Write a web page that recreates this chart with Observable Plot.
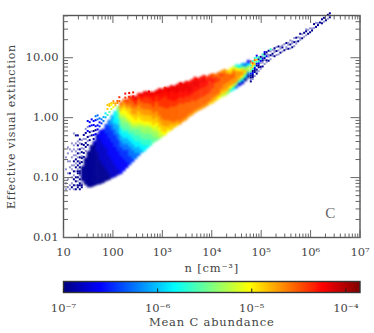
<!DOCTYPE html>
<html><head><meta charset="utf-8">
<script src="https://cdn.jsdelivr.net/npm/d3@7"></script>
<script src="https://cdn.jsdelivr.net/npm/@observablehq/plot@0.6"></script>
<style>html,body{margin:0;padding:0;background:#fff}svg{display:block}.soft{filter:blur(0.9px)}.sp1 text{letter-spacing:0.75px}.sp2 text{letter-spacing:0.8px}</style>
</head><body><div id="c"></div>
<script>
const levelChars = "abcdefghijklmnopqr";
const levelLogC = [-6.94,-6.78,-6.62,-6.46,-6.26,-6.06,-5.85,-5.66,-5.50,-5.35,-5.19,-5.03,-4.87,-4.72,-4.56,-4.40,-4.28,-4.20];

const solidFirstLogN = 1.36, solidStepN = 0.06, solidStepA = 0.05;
const solidStart = [-1.07,-1.13,-1.17,-1.17,-1.15,-1.13,-1.12,-1.10,-1.07,-1.05,-1.02,-1.0,-.97,-.95,-.90,-.85,-.80,-.75,-.70,-.65,-.60,-.57,-.52,-.48,-.43,-.40,-.37,-.33,-.30,-.25,-.22,-.18,-.15,-.12,-.08,-.05,0,.03,.07,.10,.125,.15,.18,.21,.23,.27,.30,.33,.35,.38,.42,.45,.48,.52,.55,.60,.65];
const solidRows = ["aaaaa","aaaaaaaaa","aaaaaaaaaaaa","aaaaaaaaaaaaaa","aaaaaaaaaaaaaab","aaaaaaaaaaabbbbbb","aaaaaaaabbbbbbbccc","aaaaaabbbbbbbccccc","aaaabbbbbbbcccccddd","aabbbbbbccccccddddee","bbbbbbccccccddddeefff","bbbbccccccddddeeffgggg","bbccccccddddeefffgghhij","ccccccdddeeffgghiijklmno","ccccdddeeffgghiijjkllmno","ccddddeeffgghiijkllmnop","dddeeeffgghiijkllmmnoop","deeeffgghhijkllmnnoopq","eeffgghhiijklmmnnopqr","effgghhiijkllmmnnoopq","fgghhiijjklmmnnoopqr","gghhiijjklmmnnooppqr","ghhiijjklmmnnooppqr","hhiijjklmmnnooppqr","iijjklmmnnooppqqr","ijjkklmmnnoooppqr","jkklmmnnoooppqqrr","klmmnnoooopppqqr","lmmnnooooppppqqr","lmnnoooopppqqrr","mmnoooooppqqqrr","mnoooooppqqqrr","mnoooooppqqrrr","nooooooppqqrrr","noooooppqqrrr","noooooppqqrrr","nooooppqrrrq","nooooppqrrrq","nooopppqqrrq","nooopppqrrq","nooopppqqrq","nooopppqqrq","nooopppqqp","moooppppqp","mnoooppqpo","mnooooppo","lnoooopoo","kmnoooopn","kmnnoooon","jmnnooom","hlnnooml","gknnoonk","ejnnnnlh","chmnnlg","bglnmjf","agkmie","aejkgc"];

const sparseStepN = 0.04, sparseStepA = 0.0333;
const sparseN = [1.04,1.08,1.12,1.16,1.20,1.24,1.28,1.32,1.36,1.36,1.40,1.44,1.48,1.52,1.56,1.60,1.64,1.68,1.72,1.76,1.80,1.84,1.88,1.92,1.96,2.00,2.04,2.08,2.12,
 2.24,2.32,2.40,2.72,3.04,3.36,3.68,4.00,4.32,
 4.78,4.82,4.86,4.90,4.94,4.98,5.02,5.06,5.10,5.14,5.18,5.22,5.26,5.30,5.34,5.38,5.42,5.46,5.50,5.54,5.58,5.62,5.66,5.70,5.74,5.78,5.82,5.86,5.90,5.94,5.98,6.02,6.06,6.10,6.14,6.18,6.22,6.26,6.30,6.34,6.38];
const sparseA = [-1.22,-1.22,-1.22,-1.22,-1.22,-1.22,-1.22,-1.22,-1.22,-.80,-.68,-.58,-.48,-.40,-.32,-.38,-.30,-.22,-.17,-.12,-.08,-.02,.02,.07,.12,.15,.18,.22,.25,
 .31,.32,.33,.41,.47,.54,.61,.68,.74,
 .58,.62,.67,.71,.75,.79,.83,.87,.90,.925,.95,.975,1.0,1.02,1.03,1.06,1.08,1.10,1.12,1.125,1.13,1.15,1.17,1.21,1.25,1.275,1.30,1.325,1.35,1.375,1.40,1.43,1.47,1.49,1.52,1.53,1.55,1.575,1.60,1.625,1.65];
const sparseRows = ["z..z......z.....z",".z...z..z.....z...z..z","z.z.....a..z..z.....z",".a.z..z...z.z...z..z...z","z.a..a.z.a..z.a..z..z.z.....z","a.z.a.a..z.a.z.a.z.z...z...a",".aa.z.a.aaz.a.a.z.a.z.a.z..a","a.aa.a.zaa.a.az.a.z.a..z.a",".aaz",".a.az.a.z.a.z","a.a.z.a..z.a","z.a.a.z..a.z","a.z.a..c.z..c","a.z.a..c.c","a.z..c..c","a.c.a..c.c","c.a.c..c.e","c.c..e.e","d.c.e","d.e","e.f","f.g","h..m.m","i..mm","k.lm","l.mn","mn","no","o.p",
 "p.q","q.r","r.q","r","o","q","q","o","m",
 "azaachjmhlo","zaacahkmoh","z.aachmjoh","aza.achmhc","z.aachah","za.zcha.","a.zaczh","z.zahac","za.cza","a.zz.a","z.a.zh",".za.z","a.zza","z.a.z","z.z.a","a.zz","z.az","a..z","zz.a","a.zz","z.a.z","a.zz","z.a.z","zz.a","a.z","zz.a","a.z","z.a","z.az","a.z","a.z","az","z.a","a.z","az",".a","a.a","z.a","a","z.a","a.a"];

const colorT = [0,0.125,0.375,0.625,0.875,1];
const colorRange = ["#000080","#0000ff","#00ffff","#ffff00","#ff0000","#800000"];
const jet = d3.scaleLinear().domain(colorT).range(colorRange);

const xMajor = [10,100,1e3,1e4,1e5,1e6,1e7];
const xLabels = ["10","100","10³","10⁴","10⁵","10⁶","10⁷"];
const yMajor = [0.01,0.1,1,10];
const yLabels = ["0.01","0.10","1.00","10.00"];
const barMajor = [1e-7,1e-6,1e-5,1e-4];
const barLabels = ["10⁻⁷","10⁻⁶","10⁻⁵","10⁻⁴"];
const minorMult = [2,3,4,5,6,7,8,9];

const cells = [];
solidRows.forEach((s,i)=>{ const ln = solidFirstLogN+i*solidStepN;
  [...s].forEach((ch,k)=>{ const la = solidStart[i]+k*solidStepA;
    cells.push({x1:10**ln,x2:10**(ln+solidStepN+.006),y1:10**la,y2:10**(la+solidStepA+.005),c:10**levelLogC[levelChars.indexOf(ch)]}); }); });
const specks = [], faint = [];
sparseRows.forEach((s,i)=>{ [...s].forEach((ch,k)=>{ if(ch===".") return;
  const la = sparseA[i]+k*sparseStepA;
  const o = {x1:10**sparseN[i],x2:10**(sparseN[i]+sparseStepN),y1:10**la,y2:10**(la+sparseStepA),c:ch==="z"?10**levelLogC[0]:10**levelLogC[levelChars.indexOf(ch)]};
  (ch==="z"?faint:specks).push(o); }); });

const xDomain=[10,1e7], yDomain=[0.01,50.7];
const minorOf=(decades,lim)=>decades.flatMap(d=>minorMult.map(m=>d*m)).filter(v=>v>lim[0]&&v<lim[1]);
const xMinor=minorOf(xMajor,xDomain), yMinor=minorOf(yMajor,yDomain);
const ink="#444", font="DejaVu Serif";
const labelAt=(vals,labs)=>v=>labs[vals.indexOf(v)];
const barX=[1e-7,10**-3.85];
const colorOpt={type:"log",domain:barX,interpolate:t=>jet(t)};
const blank=()=>"";

const main = Plot.plot({
  width:374,height:276,marginLeft:63,marginRight:14.5,marginTop:15,marginBottom:39,
  style:{fontFamily:font,fontSize:"11.5px",background:"#fff",color:ink},
  x:{type:"log",domain:xDomain},
  y:{type:"log",domain:yDomain},
  color:colorOpt,
  marks:[
    Plot.rect(faint,{x1:"x1",x2:"x2",y1:"y1",y2:"y2",fill:"c",fillOpacity:0.42}),
    Plot.rect(specks,{x1:"x1",x2:"x2",y1:"y1",y2:"y2",fill:"c"}),
    Plot.rect(cells,{x1:"x1",x2:"x2",y1:"y1",y2:"y2",fill:"c",className:"soft"}),
    Plot.text(["C"],{x:2.5e6,y:0.025,text:d=>d,fontSize:15,fill:"#666",fontFamily:"Liberation Serif"}),
    Plot.frame({stroke:"#555",strokeWidth:1.4}),
    Plot.axisX(xMajor,{anchor:"bottom",tickSize:-7,stroke:"#666",tickFormat:blank,label:null}),
    Plot.axisX(xMinor,{anchor:"bottom",tickSize:-3.5,stroke:"#666",tickFormat:blank,label:null}),
    Plot.axisX(xMajor,{anchor:"top",tickSize:-7,stroke:"#666",tickFormat:blank,label:null}),
    Plot.axisX(xMinor,{anchor:"top",tickSize:-3.5,stroke:"#666",tickFormat:blank,label:null}),
    Plot.axisY(yMajor,{anchor:"left",tickSize:-10,stroke:"#666",tickFormat:blank,label:null}),
    Plot.axisY(yMinor,{anchor:"left",tickSize:-5,stroke:"#666",tickFormat:blank,label:null}),
    Plot.axisY(yMajor,{anchor:"right",tickSize:-10,stroke:"#666",tickFormat:blank,label:null}),
    Plot.axisY(yMinor,{anchor:"right",tickSize:-5,stroke:"#666",tickFormat:blank,label:null}),
    Plot.axisX(xMajor,{anchor:"bottom",tickSize:0,tickPadding:10,tickFormat:labelAt(xMajor,xLabels),label:null,fill:ink,fontSize:11.5}),
    Plot.axisY(yMajor,{anchor:"left",tickSize:0,tickPadding:5,tickFormat:labelAt(yMajor,yLabels),label:null,fill:ink,fontSize:11.5}),
    Plot.text(["n [cm⁻³]"],{text:d=>d,frameAnchor:"bottom",textAnchor:"middle",dy:34,fill:ink,fontSize:11.5,className:"sp2"}),
    Plot.text(["Effective visual extinction"],{text:d=>d,frameAnchor:"left",textAnchor:"middle",dx:-52,rotate:-90,fill:ink,fontSize:11,className:"sp1"})
  ]
});

const barSteps=d3.range(-7,-3.85,0.0106);
const bar = Plot.plot({
  width:374,height:57,marginLeft:63,marginRight:14.5,marginTop:5,marginBottom:41,
  style:{fontFamily:font,fontSize:"11.5px",background:"#fff",color:ink},
  x:{type:"log",domain:barX},
  y:{domain:[0,1],axis:null},
  color:colorOpt,
  marks:[
    Plot.raster(barSteps,{x:d=>10**d,y:0.5,fill:d=>10**d,x1:barX[0],x2:barX[1],y1:0,y2:1,width:296,height:1,interpolate:"nearest",imageRendering:"auto"}),
    Plot.frame({stroke:"#333",strokeWidth:1.4}),
    Plot.axisX(barMajor,{anchor:"bottom",tickSize:-3.5,stroke:"#222",tickFormat:blank,label:null}),
    Plot.axisX(barMajor,{anchor:"bottom",tickSize:0,tickPadding:11,tickFormat:labelAt(barMajor,barLabels),label:null,fill:ink,fontSize:11.5}),
    Plot.text(["Mean C abundance"],{text:d=>d,frameAnchor:"bottom",textAnchor:"middle",dy:33,fill:ink,fontSize:11.5,className:"sp2"})
  ]
});
const c=document.getElementById("c");
c.appendChild(main);c.appendChild(bar);
</script></body></html>
